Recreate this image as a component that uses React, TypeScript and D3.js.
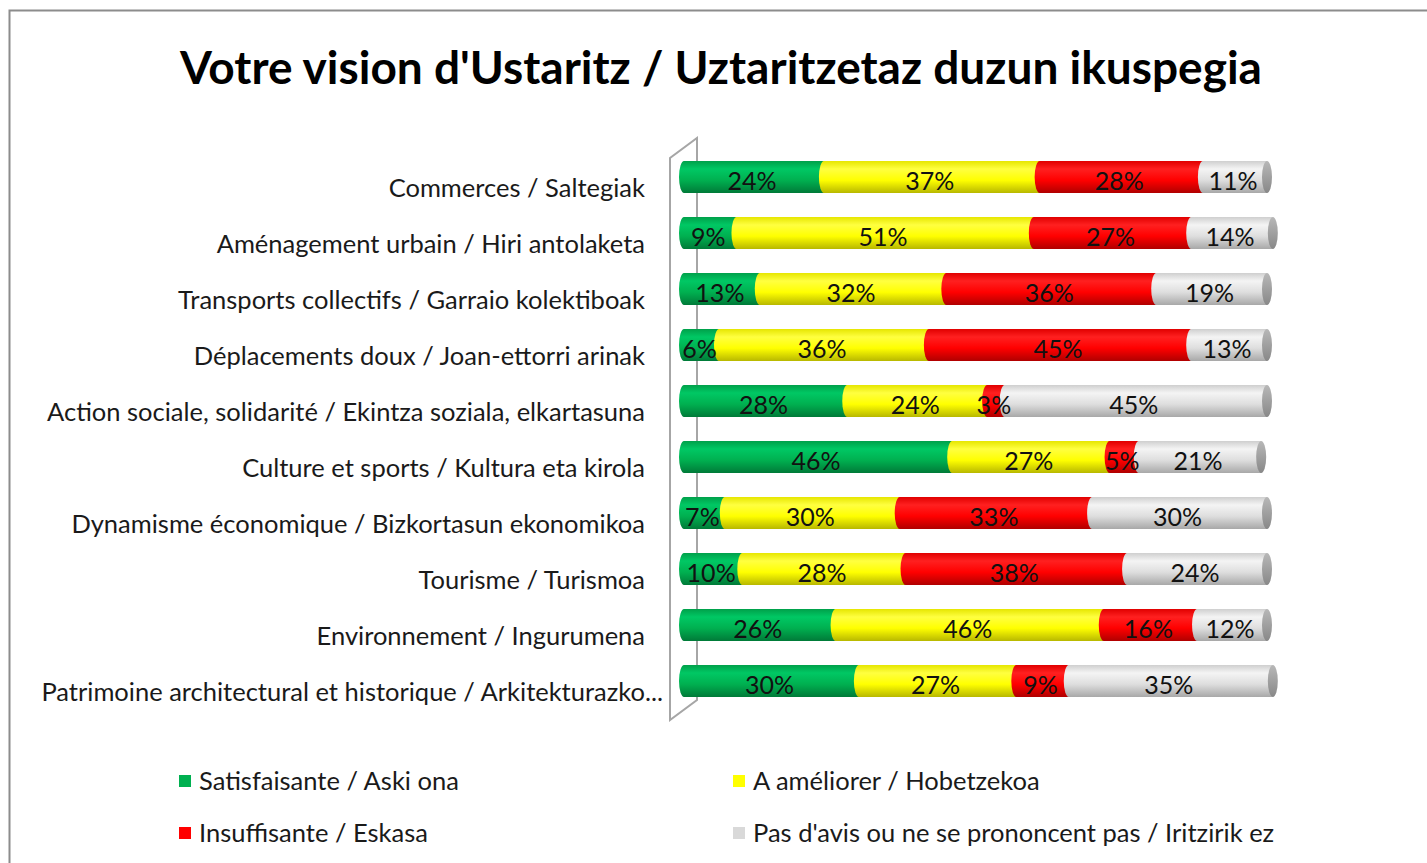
import React from 'react';
import * as d3 from 'd3';

const categories = [
  'Commerces / Saltegiak',
  'Aménagement urbain / Hiri antolaketa',
  'Transports collectifs / Garraio kolektiboak',
  'Déplacements doux / Joan-ettorri arinak',
  'Action sociale, solidarité / Ekintza soziala, elkartasuna',
  'Culture et sports / Kultura eta kirola',
  'Dynamisme économique / Bizkortasun ekonomikoa',
  'Tourisme / Turismoa',
  'Environnement / Ingurumena',
  'Patrimoine architectural et historique / Arkitekturazko...',
];

const seriesNames = [
  'Satisfaisante / Aski ona',
  'A améliorer / Hobetzekoa',
  'Insuffisante / Eskasa',
  "Pas d'avis ou ne se prononcent pas / Iritzirik ez",
];

const satisfaisante = [24, 9, 13, 6, 28, 46, 7, 10, 26, 30];
const ameliorer = [37, 51, 32, 36, 24, 27, 30, 28, 46, 27];
const insuffisante = [28, 27, 36, 45, 3, 5, 33, 38, 16, 9];
const sansAvis = [11, 14, 19, 13, 45, 21, 30, 24, 12, 35];

const seriesValues = [satisfaisante, ameliorer, insuffisante, sansAvis];

// gradient stops per series: edge, highlight, mid, shadow
const palette = [
  ['#00a04a', '#00c864', '#00b050', '#007a38'],
  ['#e6e600', '#ffff40', '#ffff00', '#b8b800'],
  ['#e00000', '#ff2020', '#ff0000', '#b00000'],
  ['#cfcfcf', '#f4f4f4', '#dedede', '#a8a8a8'],
];
const legendColors = ['#00b050', '#ffff00', '#ff0000', '#d9d9d9'];

const W = 1427;
const H = 863;
const barH = 32;
const rx = 5;

const App = () => {
  const x = d3.scaleLinear().domain([0, 100]).range([684, 1267]);
  const y = d3.scalePoint<string>().domain(categories).range([177, 681]);

  const font = 'Lato, "Open Sans", sans-serif';

  const segPath = (xa: number, xb: number, cy: number) => {
    const y0 = cy - barH / 2;
    const y1 = cy + barH / 2;
    return `M${xa},${y0} L${xb},${y0} L${xb},${y1} L${xa},${y1} A${rx},${barH / 2} 0 0 1 ${xa},${y0} Z`;
  };

  return (
    <svg width={W} height={H} style={{ position: 'absolute', left: 0, top: 0, background: '#fff' }}>
      <defs>
        {palette.map((p, i) => (
          <linearGradient key={i} id={`g${i}`} x1="0" y1="0" x2="0" y2="1">
            <stop offset="0" stopColor={p[0]} />
            <stop offset="0.25" stopColor={p[1]} />
            <stop offset="0.6" stopColor={p[2]} />
            <stop offset="1" stopColor={p[3]} />
          </linearGradient>
        ))}
        <linearGradient id="cap" x1="0" y1="0" x2="0" y2="1">
          <stop offset="0" stopColor="#b8b8b8" />
          <stop offset="0.5" stopColor="#a0a0a0" />
          <stop offset="1" stopColor="#888" />
        </linearGradient>
      </defs>

      <rect x={9.5} y={10.5} width={W + 20} height={H + 20} fill="none" stroke="#8c8c8c" strokeWidth={2} />

      <text x={721} y={84} textAnchor="middle" fontFamily={font} fontWeight="bold" fontSize={46} fill="#000">
        Votre vision d'Ustaritz / Uztaritzetaz duzun ikuspegia
      </text>

      {/* 3D back wall */}
      <g stroke="#a6a6a6" strokeWidth={2} fill="none">
        <path d="M670,720 L670,158 L697,138 L697,700 Z" />
      </g>

      {categories.map((c, i) => {
        const cy = y(c) as number;
        let acc = 0;
        const segs = seriesValues.map((vals, s) => {
          const v = vals[i];
          const seg = { s, v, a: acc, b: acc + v };
          acc += v;
          return seg;
        });
        // Excel's truncated label sticks out past the others
        const labelX = c.endsWith('...') ? 663 : 645;
        return (
          <g key={c}>
            <text x={labelX} y={cy + 14} textAnchor="end" dominantBaseline="middle" fontFamily={font} fontSize={25.5} fill="#1a1a1a">
              {c}
            </text>
            {segs.map((sg) => (
              <path key={sg.s} d={segPath(x(sg.a), x(sg.b), cy)} fill={`url(#g${sg.s})`} />
            ))}
            <ellipse cx={x(acc)} cy={cy} rx={rx} ry={barH / 2} fill="url(#cap)" />
            {segs.map((sg) => (
              <text
                key={'t' + sg.s}
                x={(x(sg.a) + x(sg.b)) / 2 - 2}
                y={cy + 7}
                textAnchor="middle"
                dominantBaseline="middle"
                fontFamily={font}
                fontSize={25}
                fill="#111"
              >
                {sg.v}%
              </text>
            ))}
          </g>
        );
      })}

      {seriesNames.map((n, s) => {
        const lx = s % 2 === 0 ? 179 : 733;
        const ly = s < 2 ? 781 : 833;
        return (
          <g key={n}>
            <rect x={lx} y={ly - 6} width={12} height={12} fill={legendColors[s]} />
            <text x={lx + 20} y={ly + 3} dominantBaseline="middle" fontFamily={font} fontSize={25.5} fill="#1a1a1a">
              {n}
            </text>
          </g>
        );
      })}
    </svg>
  );
};

export default App;
